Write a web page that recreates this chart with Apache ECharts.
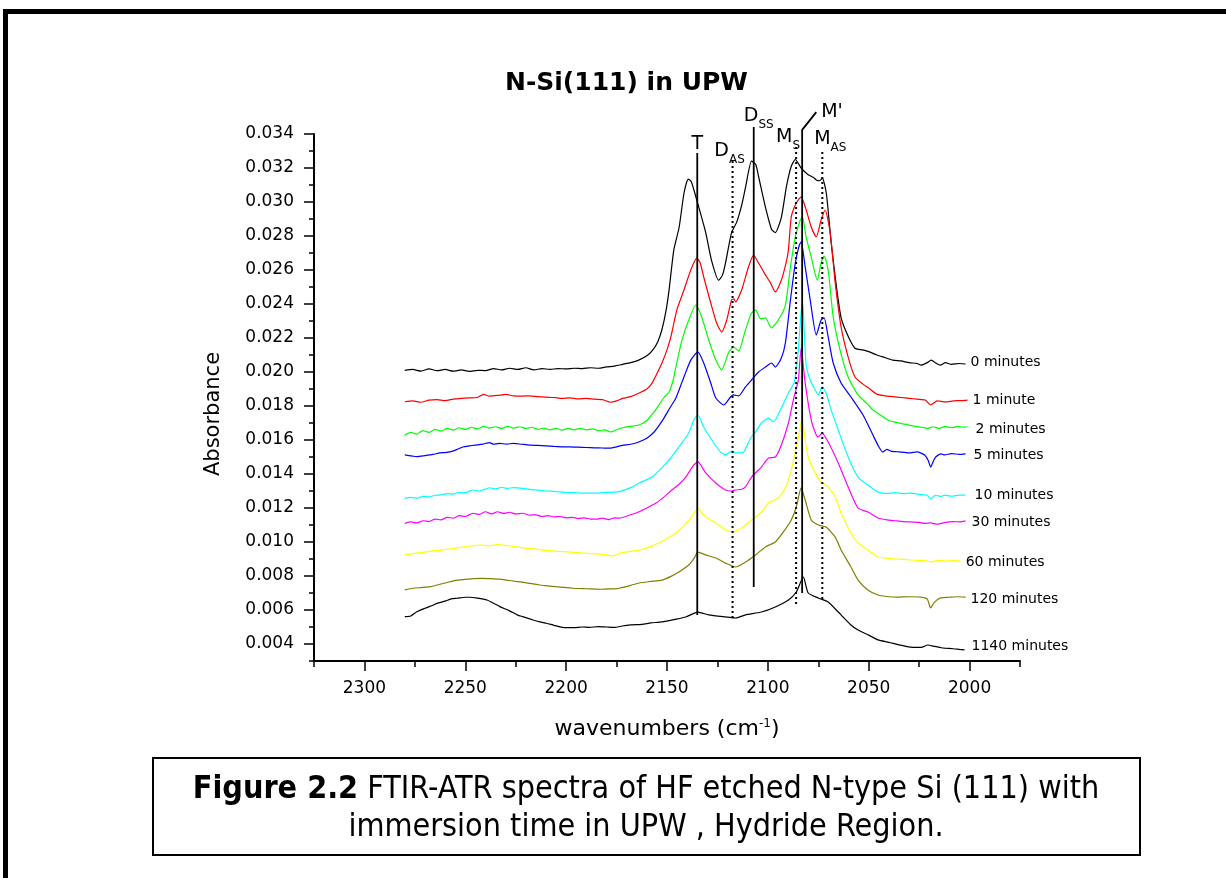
<!DOCTYPE html>
<html><head><meta charset="utf-8">
<script src="https://cdn.jsdelivr.net/npm/echarts@6/dist/echarts.min.js"></script>
<style>html,body{margin:0;padding:0;background:#fff}#c{width:1226px;height:878px}</style>
</head><body><div id="c"></div>
<script>
// ---- tick values ----
const xMajorTicks = [2000, 2050, 2100, 2150, 2200, 2250, 2300];
const xMinorTicks = [1975, 2025, 2075, 2125, 2175, 2225, 2275, 2325];
const yMajorTicks = [0.004, 0.006, 0.008, 0.010, 0.012, 0.014, 0.016, 0.018, 0.020, 0.022, 0.024, 0.026, 0.028, 0.030, 0.032, 0.034];
const yMinorTicks = [0.003, 0.005, 0.007, 0.009, 0.011, 0.013, 0.015, 0.017, 0.019, 0.021, 0.023, 0.025, 0.027, 0.029, 0.031, 0.033];

// ---- series ----
const seriesNames = ['0 minutes', '1 minute', '2 minutes', '5 minutes', '10 minutes', '30 minutes', '60 minutes', '120 minutes', '1140 minutes'];
const seriesColors = ['#000000', '#ff0000', '#00ff00', '#0000ff', '#00ffff', '#ff00ff', '#ffff00', '#808000', '#000000'];
const labelOffsets = [[0, -2], [0, 0], [3, 3], [3, 1], [4, 0], [1, 1], [0, 1], [0, 2], [2, -4]];

const c0 = [[2280,0.02010],[2276,0.02015],[2272,0.02005],[2268,0.02018],[2264,0.02008],[2260,0.02015],[2256,0.02005],[2252,0.02012],[2248,0.02004],[2244,0.02010],[2240,0.02008],[2236,0.02020],[2232,0.02012],[2228,0.02022],[2224,0.02015],[2220,0.02025],[2216,0.02012],[2212,0.02020],[2208,0.02015],[2204,0.02020],[2200,0.02018],[2196,0.02022],[2192,0.02020],[2188,0.02025],[2184,0.02022],[2180,0.02030],[2176,0.02035],[2172,0.02045],[2168,0.02055],[2164,0.02070],[2160,0.02095],[2157,0.02130],[2154.5,0.02180],[2152.5,0.02250],[2150.5,0.02360],[2149,0.02480],[2146.6,0.02720],[2144,0.02850],[2141.6,0.03050],[2139.5,0.03135],[2138,0.03120],[2135.2,0.03010],[2130.8,0.02820],[2128,0.02660],[2124.4,0.02540],[2122.5,0.02570],[2121,0.02640],[2118,0.02820],[2115.5,0.02880],[2113,0.02980],[2111,0.03090],[2108.1,0.03240],[2106,0.03220],[2104.6,0.03150],[2101.2,0.02970],[2098.2,0.02840],[2096.3,0.02820],[2093.3,0.02910],[2090.8,0.03090],[2088.4,0.03210],[2086.4,0.03250],[2083.5,0.03200],[2080,0.03160],[2077.5,0.03145],[2076,0.03130],[2074.5,0.03125],[2073,0.03140],[2071,0.03050],[2068.6,0.02760],[2066.2,0.02520],[2063.7,0.02320],[2060.2,0.02210],[2056.8,0.02140],[2053,0.02130],[2050,0.02120],[2046,0.02100],[2042,0.02085],[2038,0.02070],[2034,0.02065],[2030,0.02055],[2026,0.02050],[2024,0.02040],[2021,0.02055],[2019,0.02070],[2017,0.02055],[2014.5,0.02040],[2012,0.02055],[2009,0.02045],[2005,0.02050],[2002,0.02047]];

const c1 = [[2280,0.01825],[2276,0.01830],[2272,0.01822],[2268,0.01835],[2264,0.01838],[2260,0.01832],[2256,0.01840],[2252,0.01845],[2248,0.01848],[2244,0.01850],[2241,0.01868],[2238,0.01858],[2234,0.01862],[2230,0.01868],[2226,0.01860],[2222,0.01858],[2218,0.01860],[2214,0.01855],[2210,0.01852],[2206,0.01850],[2202,0.01845],[2198,0.01848],[2194,0.01842],[2190,0.01845],[2186,0.01840],[2182,0.01838],[2178,0.01822],[2175,0.01830],[2172,0.01845],[2168,0.01855],[2164,0.01875],[2160,0.01900],[2157.4,0.01935],[2155,0.01990],[2152.5,0.02053],[2150,0.02130],[2148.1,0.02206],[2145.1,0.02365],[2141.6,0.02482],[2138.2,0.02600],[2135.2,0.02671],[2133.5,0.02640],[2131.8,0.02559],[2128.3,0.02406],[2125.4,0.02288],[2122.9,0.02235],[2120.4,0.02306],[2118,0.02424],[2116.8,0.02430],[2116,0.02412],[2113,0.02482],[2109.6,0.02618],[2107.1,0.02688],[2104.6,0.02641],[2101.2,0.02571],[2098.7,0.02524],[2096.3,0.02471],[2093.3,0.02541],[2091,0.02640],[2089.8,0.02718],[2088.4,0.02912],[2085.9,0.02994],[2083.5,0.03030],[2081,0.02953],[2078.5,0.02853],[2076,0.02794],[2073.6,0.02894],[2071.6,0.02953],[2069.1,0.02818],[2066.6,0.02524],[2063.7,0.02265],[2060.2,0.02088],[2056.8,0.01971],[2053,0.01930],[2050,0.01906],[2046,0.01870],[2042,0.01860],[2038,0.01855],[2034,0.01850],[2030,0.01845],[2026,0.01840],[2022,0.01835],[2019.3,0.01806],[2016,0.01830],[2012,0.01824],[2008,0.01830],[2004,0.01832],[2001,0.01835]];

const c2 = [[2280,0.01629],[2277,0.01645],[2274,0.01635],[2271,0.01655],[2268,0.01645],[2265,0.01662],[2262,0.01652],[2259,0.01668],[2256,0.01658],[2253,0.01672],[2250,0.01662],[2247,0.01675],[2244,0.01665],[2241,0.01680],[2238,0.01670],[2235,0.01678],[2232,0.01668],[2229,0.01680],[2226,0.01670],[2223,0.01678],[2220,0.01668],[2217,0.01675],[2214,0.01662],[2211,0.01670],[2208,0.01660],[2205,0.01668],[2202,0.01658],[2199,0.01668],[2196,0.01660],[2193,0.01668],[2190,0.01660],[2187,0.01665],[2184,0.01655],[2181,0.01660],[2178,0.01647],[2175,0.01660],[2172,0.01672],[2168,0.01680],[2164,0.01688],[2160,0.01715],[2156.4,0.01765],[2154,0.01806],[2151.5,0.01850],[2149,0.01882],[2147,0.01950],[2145.6,0.02029],[2142.6,0.02188],[2139.2,0.02306],[2135.7,0.02394],[2132.8,0.02324],[2129.3,0.02188],[2125.8,0.02070],[2122.9,0.02012],[2119.5,0.02112],[2117,0.02147],[2114.5,0.02124],[2111.1,0.02247],[2108.1,0.02347],[2106.1,0.02365],[2103.6,0.02312],[2101.2,0.02318],[2098.2,0.02259],[2094.8,0.02306],[2091.3,0.02394],[2088.8,0.02618],[2086.4,0.02794],[2083.9,0.02894],[2082.9,0.02912],[2081,0.02794],[2078.5,0.02676],[2075.5,0.02541],[2073.6,0.02641],[2072.1,0.02682],[2070.1,0.02600],[2067.6,0.02324],[2064.2,0.02129],[2060.2,0.01971],[2055.3,0.01865],[2050.5,0.01810],[2047.9,0.01776],[2044,0.01745],[2040.5,0.01718],[2037,0.01705],[2033,0.01695],[2030,0.01688],[2027,0.01680],[2024,0.01675],[2021,0.01668],[2018,0.01678],[2015,0.01668],[2012,0.01680],[2009,0.01672],[2006,0.01680],[2003,0.01676],[2001,0.01678]];

const c3 = [[2280,0.01512],[2276,0.01505],[2273.9,0.01502],[2270,0.01508],[2266,0.01515],[2262.5,0.01524],[2260,0.01526],[2257.6,0.01530],[2254,0.01545],[2251.2,0.01559],[2248,0.01565],[2245,0.01570],[2241.3,0.01576],[2238,0.01585],[2236,0.01575],[2233,0.01580],[2229.5,0.01576],[2226,0.01580],[2222,0.01575],[2218,0.01570],[2214,0.01568],[2210,0.01565],[2206,0.01562],[2202,0.01560],[2198,0.01559],[2194,0.01558],[2190,0.01556],[2186,0.01554],[2182,0.01553],[2178,0.01552],[2175,0.01560],[2172,0.01568],[2168,0.01575],[2164,0.01588],[2160,0.01610],[2156.4,0.01647],[2154,0.01685],[2151.5,0.01729],[2148.5,0.01790],[2145.6,0.01847],[2141.6,0.01971],[2138.2,0.02070],[2134.7,0.02118],[2131.8,0.02053],[2128.3,0.01935],[2125.8,0.01847],[2121.9,0.01806],[2118.5,0.01853],[2117,0.01865],[2114.5,0.01859],[2111.1,0.01912],[2108.1,0.01953],[2104.6,0.02000],[2101.2,0.02029],[2098.2,0.02053],[2096.3,0.02029],[2093.3,0.02082],[2091.3,0.02171],[2088.8,0.02424],[2086.4,0.02641],[2084.4,0.02747],[2083.5,0.02765],[2081.5,0.02618],[2079,0.02424],[2076,0.02218],[2073.6,0.02306],[2072.1,0.02318],[2070.1,0.02206],[2067.6,0.02053],[2063.7,0.01935],[2058.8,0.01853],[2052.8,0.01747],[2047.9,0.01629],[2045,0.01560],[2043,0.01529],[2041,0.01545],[2039,0.01535],[2035,0.01530],[2030,0.01524],[2026,0.01530],[2022.3,0.01512],[2020.5,0.01480],[2019.3,0.01441],[2017.8,0.01480],[2016.8,0.01500],[2014,0.01518],[2012.4,0.01512],[2009,0.01520],[2005,0.01515],[2002,0.01518]];

const c4 = [[2280,0.01257],[2277,0.01262],[2274,0.01258],[2271,0.01268],[2268,0.01265],[2265,0.01275],[2262.5,0.01276],[2259,0.01285],[2256,0.01282],[2253,0.01292],[2250,0.01290],[2246.2,0.01306],[2243,0.01300],[2240,0.01312],[2237.8,0.01319],[2235,0.01312],[2232,0.01322],[2229,0.01315],[2226,0.01320],[2221.6,0.01316],[2218,0.01310],[2214,0.01305],[2210,0.01300],[2206,0.01298],[2204.8,0.01296],[2200,0.01292],[2196,0.01290],[2192,0.01288],[2188.5,0.01287],[2184,0.01288],[2180,0.01292],[2176,0.01293],[2173.7,0.01296],[2168,0.01320],[2163.8,0.01347],[2157.4,0.01382],[2153,0.01430],[2149,0.01482],[2144.1,0.01559],[2139.2,0.01641],[2136.7,0.01718],[2134.7,0.01747],[2131.8,0.01676],[2127.8,0.01600],[2123.4,0.01529],[2121,0.01512],[2118,0.01535],[2115.5,0.01524],[2112,0.01529],[2108.6,0.01612],[2106.1,0.01647],[2103.2,0.01700],[2099.7,0.01729],[2097.2,0.01706],[2093.3,0.01788],[2089.8,0.01876],[2086.9,0.01941],[2084.9,0.02129],[2083.5,0.02353],[2082.7,0.02406],[2082,0.02247],[2081,0.02041],[2079,0.01953],[2076,0.01882],[2075,0.01865],[2073.1,0.01912],[2071.1,0.01876],[2068.6,0.01776],[2065.1,0.01659],[2060.2,0.01500],[2055.3,0.01382],[2050.4,0.01335],[2045.4,0.01294],[2041,0.01285],[2037,0.01290],[2033,0.01285],[2029.2,0.01288],[2025,0.01280],[2021,0.01275],[2019.3,0.01253],[2017,0.01275],[2014,0.01268],[2012.4,0.01276],[2009,0.01270],[2005,0.01276],[2002,0.01276]];

const c5 = [[2280,0.01110],[2277,0.01118],[2274,0.01112],[2271,0.01125],[2268,0.01120],[2265,0.01135],[2262,0.01130],[2259,0.01145],[2256,0.01140],[2253,0.01155],[2250,0.01150],[2246.2,0.01169],[2243,0.01162],[2240,0.01178],[2237,0.01165],[2234,0.01178],[2231,0.01168],[2228,0.01175],[2225,0.01165],[2221.6,0.01169],[2218,0.01158],[2215,0.01160],[2212,0.01150],[2209,0.01155],[2206,0.01148],[2203,0.01150],[2200,0.01142],[2197,0.01145],[2194,0.01138],[2191,0.01142],[2188,0.01135],[2185,0.01134],[2182,0.01140],[2179,0.01132],[2176,0.01142],[2173.7,0.01140],[2168,0.01160],[2163.8,0.01178],[2160,0.01200],[2155.4,0.01229],[2151,0.01270],[2147.6,0.01306],[2144,0.01340],[2140.7,0.01382],[2136.7,0.01453],[2134.7,0.01471],[2130.8,0.01406],[2125.8,0.01347],[2121,0.01306],[2118,0.01300],[2116,0.01306],[2113,0.01310],[2111.1,0.01324],[2108.1,0.01382],[2103.2,0.01441],[2099.7,0.01494],[2096.3,0.01500],[2093.3,0.01571],[2089.8,0.01700],[2087.4,0.01835],[2084.9,0.01953],[2083.5,0.02141],[2081.5,0.01935],[2078.5,0.01718],[2076,0.01629],[2075,0.01618],[2073.1,0.01641],[2070.1,0.01588],[2065.1,0.01465],[2060.2,0.01324],[2055.3,0.01200],[2050.4,0.01176],[2045.4,0.01141],[2041,0.01130],[2037,0.01125],[2033,0.01120],[2029.2,0.01118],[2025,0.01115],[2022,0.01110],[2019.3,0.01112],[2016,0.01105],[2012,0.01115],[2008,0.01120],[2005,0.01118],[2002,0.01124]];

const c6 = [[2280,0.00924],[2276,0.00932],[2272,0.00938],[2268,0.00945],[2264,0.00950],[2260,0.00955],[2256,0.00962],[2252,0.00968],[2248,0.00975],[2244,0.00980],[2242.8,0.00982],[2238,0.00978],[2234,0.00985],[2231.4,0.00982],[2227,0.00975],[2223,0.00968],[2219,0.00963],[2215,0.00958],[2211,0.00952],[2207,0.00948],[2203,0.00945],[2201.8,0.00943],[2197,0.00940],[2193,0.00936],[2189,0.00933],[2185,0.00930],[2181,0.00926],[2177.2,0.00918],[2175,0.00925],[2173.7,0.00933],[2168,0.00945],[2163.8,0.00953],[2159,0.00970],[2154,0.00994],[2150,0.01020],[2145.6,0.01053],[2142,0.01090],[2139.2,0.01129],[2136.5,0.01170],[2134.7,0.01200],[2133,0.01175],[2130.8,0.01147],[2125.8,0.01112],[2121,0.01071],[2117,0.01059],[2113,0.01082],[2108.1,0.01129],[2103.2,0.01176],[2099.7,0.01229],[2094.8,0.01259],[2091.3,0.01318],[2088.4,0.01424],[2085.9,0.01559],[2083.9,0.01676],[2082.9,0.01729],[2082,0.01641],[2080,0.01500],[2076.5,0.01406],[2073.6,0.01353],[2070.1,0.01324],[2066.6,0.01265],[2063.7,0.01171],[2058.8,0.01053],[2055.3,0.00994],[2050.4,0.00953],[2045.4,0.00912],[2041,0.00905],[2037,0.00900],[2033,0.00898],[2029.2,0.00894],[2025,0.00892],[2022,0.00890],[2019.3,0.00882],[2016,0.00892],[2012,0.00888],[2008,0.00890],[2004.4,0.00888]];

const c7 = [[2280,0.00718],[2276,0.00728],[2272,0.00732],[2267.4,0.00737],[2263,0.00750],[2259,0.00762],[2254.1,0.00776],[2250,0.00780],[2246,0.00784],[2241.3,0.00786],[2237,0.00784],[2233,0.00782],[2229.5,0.00776],[2225,0.00768],[2221,0.00762],[2217,0.00755],[2213.2,0.00747],[2209,0.00742],[2205,0.00737],[2201,0.00733],[2196.9,0.00728],[2192,0.00726],[2188,0.00724],[2182.1,0.00722],[2178,0.00724],[2175,0.00726],[2173.7,0.00728],[2168,0.00745],[2163.8,0.00759],[2158,0.00768],[2152.5,0.00776],[2148,0.00798],[2144.1,0.00824],[2139.2,0.00865],[2136.5,0.00905],[2134.7,0.00941],[2130.8,0.00924],[2125.8,0.00906],[2121,0.00876],[2116,0.00853],[2111.1,0.00882],[2106.1,0.00924],[2101.2,0.00971],[2096.3,0.01000],[2092.3,0.01059],[2088.4,0.01129],[2085.9,0.01206],[2083.5,0.01318],[2081.5,0.01247],[2078.5,0.01129],[2075,0.01100],[2071.1,0.01088],[2066.6,0.01029],[2063.7,0.00953],[2058.8,0.00853],[2055.3,0.00776],[2050.4,0.00718],[2045.4,0.00688],[2040,0.00678],[2035.8,0.00676],[2030,0.00678],[2024.2,0.00676],[2021,0.00665],[2019.3,0.00612],[2017.5,0.00645],[2014.4,0.00671],[2010,0.00675],[2006,0.00678],[2002,0.00676]];

const c8 = [[2280,0.00561],[2277,0.00565],[2274,0.00590],[2270,0.00610],[2266,0.00628],[2264,0.00639],[2260,0.00652],[2257,0.00665],[2254,0.00669],[2250,0.00675],[2247.7,0.00675],[2244,0.00670],[2239.3,0.00659],[2236,0.00640],[2232.9,0.00620],[2228,0.00595],[2224,0.00570],[2221.6,0.00561],[2216,0.00540],[2213,0.00530],[2209.7,0.00522],[2206,0.00510],[2201.8,0.00498],[2196,0.00496],[2192,0.00500],[2188.5,0.00498],[2184,0.00502],[2180,0.00500],[2176,0.00498],[2172.2,0.00506],[2168,0.00512],[2162.4,0.00516],[2158,0.00524],[2152.5,0.00530],[2146,0.00545],[2140.7,0.00559],[2134.7,0.00588],[2129.3,0.00571],[2121,0.00559],[2116,0.00553],[2111.1,0.00571],[2103.2,0.00588],[2096.3,0.00618],[2089.8,0.00659],[2085.9,0.00706],[2082.4,0.00794],[2080,0.00700],[2075,0.00671],[2070.1,0.00647],[2065.1,0.00588],[2058.8,0.00512],[2055.3,0.00482],[2050,0.00452],[2045.4,0.00424],[2040,0.00410],[2035,0.00395],[2029.2,0.00382],[2024,0.00380],[2020.7,0.00394],[2018,0.00388],[2014,0.00378],[2012.4,0.00376],[2008,0.00372],[2005,0.00368],[2002.5,0.00365]];

const spectra = [c0, c1, c2, c3, c4, c5, c6, c7, c8];

// ---- band marker lines (wavenumber, absorbance) ----
const lineT   = [[2135, 0.00571], [2135, 0.03288]];
const lineDAS = [[2117.5, 0.00553], [2117.5, 0.03247]];
const lineDSS = [[2107, 0.00735], [2107, 0.03441]];
const lineMS  = [[2086, 0.00635], [2086, 0.03324]];
const lineM1  = [[2083, 0.00700], [2083, 0.03424], [2076, 0.03529]];
const lineMAS = [[2073, 0.00665], [2073, 0.03306]];
// label anchors (kept inside the plot so the marker is not filtered)
const anchorDSS = [2107, 0.0339];
const anchorM1 = [2083, 0.0339];

const FONT = 'DejaVu Sans';
const CAP_FONT = 'DejaVu Sans Condensed, DejaVu Sans';
const chart = echarts.init(document.getElementById('c'), null, {renderer: 'canvas'});

const series = spectra.map((d, i) => ({
  type: 'line', name: seriesNames[i], data: d, xAxisIndex: 0, yAxisIndex: 0,
  symbol: 'none', smooth: 0.2, clip: false,
  lineStyle: {color: seriesColors[i], width: 1.2},
  z: 2,
  markPoint: {
    symbol: 'circle', symbolSize: 0, silent: true,
    data: [{coord: d[d.length - 1]}],
    label: {show: true, position: 'right', distance: 5, formatter: seriesNames[i], color: '#000',
            fontSize: 14, fontFamily: FONT, offset: labelOffsets[i]}
  }
}));

const subRich = {
  m: {fontSize: 19, fontFamily: FONT, color: '#000', lineHeight: 24, verticalAlign: 'top'},
  s: {fontSize: 12, fontFamily: FONT, color: '#000', lineHeight: 12, verticalAlign: 'bottom'}
};
function bandLine(data, dashed, labelText, anchor, pos, offset) {
  return {
    type: 'line', data: data, symbol: 'none', clip: false, silent: true,
    lineStyle: {color: '#000', width: dashed ? 2 : 1.8, type: dashed ? [2, 3] : 'solid'},
    z: 5,
    markPoint: {
      symbol: 'circle', symbolSize: 0, silent: true,
      data: [{coord: anchor}],
      label: {show: true, position: pos, distance: 2, offset: offset, formatter: labelText, rich: subRich,
              fontSize: 19, fontFamily: FONT, color: '#000'}
    }
  };
}
series.push(bandLine(lineT, false, '{m|T}', lineT[1], 'top', [0, 8]));
series.push(bandLine(lineDAS, true, '{m|D}{s|AS}', lineDAS[1], 'top', [-3, 8]));
series.push(bandLine(lineDSS, false, '{m|D}{s|SS}', anchorDSS, 'top', [5, -3]));
series.push(bandLine(lineMS, true, '{m|M}{s|S}', lineMS[1], 'top', [-8, 7]));
series.push(bandLine(lineM1, false, "{m|M'}", anchorM1, 'right', [17, -21]));
series.push(bandLine(lineMAS, true, '{m|M}{s|AS}', lineMAS[1], 'top', [8, 6]));

const axisTextStyle = {color: '#000', fontSize: 17, fontFamily: FONT};

const option = {
  animation: false,
  backgroundColor: '#ffffff',
  title: {
    text: 'N-Si(111) in UPW', left: 500, top: 66,
    textStyle: {fontSize: 25, fontWeight: 'bold', fontFamily: FONT, color: '#000'}
  },
  grid: {left: 314, right: 206, top: 134, bottom: 217, containLabel: false},
  xAxis: [{
    type: 'value', inverse: true, min: 1975, max: 2325, position: 'bottom',
    name: 'wavenumbers (cm{sup|-1})', nameLocation: 'middle', nameGap: 57,
    nameTextStyle: {fontSize: 22, fontFamily: FONT, color: '#000',
      rich: {sup: {fontSize: 12, fontFamily: FONT, color: '#000', verticalAlign: 'top', lineHeight: 12}}},
    axisLine: {show: true, onZero: false, lineStyle: {color: '#000', width: 2}},
    axisTick: {show: true, inside: false, length: 10, customValues: xMajorTicks, lineStyle: {color: '#000', width: 1.5}},
    axisLabel: {show: true, margin: 19, customValues: xMajorTicks, formatter: v => String(v), ...axisTextStyle},
    splitLine: {show: false}
  }, {
    type: 'value', inverse: true, min: 1975, max: 2325, position: 'bottom', offset: 0, gridIndex: 0,
    axisLine: {show: false},
    axisTick: {show: true, inside: false, length: 6, customValues: xMinorTicks, lineStyle: {color: '#000', width: 1.5}},
    axisLabel: {show: false},
    splitLine: {show: false}
  }],
  yAxis: [{
    type: 'value', min: 0.003, max: 0.034, position: 'left',
    axisLine: {show: true, onZero: false, lineStyle: {color: '#000', width: 2}},
    axisTick: {show: true, inside: false, length: 10, customValues: yMajorTicks, lineStyle: {color: '#000', width: 1.5}},
    axisLabel: {show: true, margin: 20, customValues: yMajorTicks, formatter: v => v.toFixed(3), ...axisTextStyle},
    splitLine: {show: false}
  }, {
    type: 'value', min: 0.003, max: 0.034, position: 'left', offset: 0, gridIndex: 0,
    axisLine: {show: false},
    axisTick: {show: true, inside: false, length: 5, customValues: yMinorTicks, lineStyle: {color: '#000', width: 1.5}},
    axisLabel: {show: false},
    splitLine: {show: false}
  }],
  series: series,
  graphic: [
    {type: 'rect', shape: {x: 3, y: 9, width: 1223, height: 5}, style: {fill: '#000'}, silent: true},
    {type: 'rect', shape: {x: 3, y: 9, width: 5, height: 869}, style: {fill: '#000'}, silent: true},
    {type: 'text', x: 214, y: 414, rotation: Math.PI / 2, silent: true,
      style: {text: 'Absorbance', fontSize: 21, fontFamily: FONT, fill: '#000', align: 'center', verticalAlign: 'middle'}},
    {type: 'rect', shape: {x: 153, y: 758, width: 987, height: 97}, style: {fill: '#fff', stroke: '#000', lineWidth: 2}, silent: true},
    {type: 'text', x: 646, y: 790, silent: true,
      style: {text: '{b|Figure 2.2} FTIR-ATR spectra of HF etched N-type Si (111) with',
        fontSize: 32, fontFamily: CAP_FONT, fill: '#000',
        align: 'center', verticalAlign: 'middle',
        rich: {b: {fontSize: 32, fontWeight: 'bold', fontFamily: CAP_FONT, fill: '#000'}}}},
    {type: 'text', x: 646, y: 828, silent: true,
      style: {text: 'immersion time in UPW , Hydride Region.',
        fontSize: 32, fontFamily: CAP_FONT, fill: '#000',
        align: 'center', verticalAlign: 'middle'}}
  ]
};
chart.setOption(option);
</script>
</body></html>
